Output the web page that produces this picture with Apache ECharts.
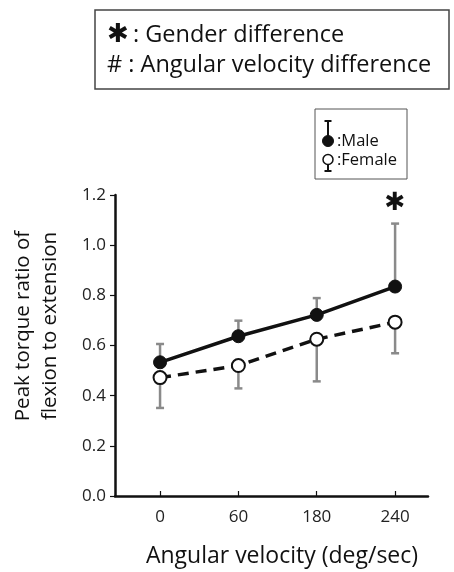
<!DOCTYPE html>
<html><head><meta charset="utf-8">
<script src="https://cdn.jsdelivr.net/npm/echarts@6/dist/echarts.min.js"></script>
<style>html,body{margin:0;padding:0;background:#fff}#c{width:454px;height:572px}</style>
</head><body><div id="c"></div>
<script>
// ---- data ----
const categories = ['0', '60', '180', '240'];
const maleMean = [0.533, 0.637, 0.722, 0.835];
const maleSD = [0.073, 0.062, 0.067, 0.251];      // drawn upward
const femaleMean = [0.472, 0.520, 0.625, 0.693];
const femaleSD = [0.121, 0.091, 0.168, 0.124];    // drawn downward
const genderDiffAt = [3];                           // indices with gender difference
const genderMarkY = 1.165;
const yTickLabels = ['0.0', '0.2', '0.4', '0.6', '0.8', '1.0', '1.2'];

const FONT = 'Open Sans';
const idx = categories.map((_, i) => i);

function errData(mean, sd, dir) {
  return idx.map(i => [i, mean[i], sd[i], dir]);
}
function errRender(params, api) {
  const x = api.value(0), m = api.value(1), e = api.value(2), d = api.value(3);
  const base = api.coord([x, m]);
  const tip = api.coord([x, m + d * e]);
  const style = { stroke: '#8a8a8a', lineWidth: 2.5 };
  return {
    type: 'group',
    children: [
      { type: 'line', shape: { x1: base[0], y1: base[1], x2: tip[0], y2: tip[1] }, style },
      { type: 'line', shape: { x1: tip[0] - 4, y1: tip[1], x2: tip[0] + 4, y2: tip[1] }, style }
    ]
  };
}

const chart = echarts.init(document.getElementById('c'), null, { renderer: 'canvas' });
chart.setOption({
  backgroundColor: '#fff',
  animation: false,
  textStyle: { fontFamily: FONT },
  grid: { left: 115, right: 26, top: 195, bottom: 76, containLabel: false },
  xAxis: {
    type: 'value', min: -0.575, max: 3.42,
    axisLine: { show: true, onZero: false, lineStyle: { color: '#111', width: 2.5 } },
    axisTick: { show: true, inside: true, length: 5, customValues: idx, lineStyle: { color: '#111', width: 1.2 } },
    axisLabel: { customValues: idx, formatter: v => categories[Math.round(v)], fontSize: 17, color: '#222', margin: 13, fontFamily: FONT },
    splitLine: { show: false }
  },
  yAxis: {
    type: 'value', min: 0, max: 1.2, interval: 0.2,
    axisLine: { show: true, onZero: false, lineStyle: { color: '#111', width: 2.5 } },
    axisTick: { show: true, inside: false, length: 5, lineStyle: { color: '#111', width: 1.2 } },
    axisLabel: { formatter: v => yTickLabels[Math.round(v / 0.2)], fontSize: 17, color: '#222', margin: 9, fontFamily: FONT },
    splitLine: { show: false }
  },
  series: [
    { type: 'custom', name: 'maleErr', renderItem: errRender, data: errData(maleMean, maleSD, 1), z: 1, encode: { x: 0, y: 1 } },
    { type: 'custom', name: 'femaleErr', renderItem: errRender, data: errData(femaleMean, femaleSD, -1), z: 1, encode: { x: 0, y: 1 } },
    {
      type: 'line', name: 'Female', data: idx.map(i => [i, femaleMean[i]]), z: 3,
      symbol: 'circle', symbolSize: 13, showAllSymbol: true,
      lineStyle: { color: '#111', width: 3.5, type: [11, 7] },
      itemStyle: { color: '#fff', borderColor: '#111', borderWidth: 2 }
    },
    {
      type: 'line', name: 'Male', data: idx.map(i => [i, maleMean[i]]), z: 4,
      symbol: 'circle', symbolSize: 13, showAllSymbol: true,
      lineStyle: { color: '#111', width: 3.5 },
      itemStyle: { color: '#111', borderColor: '#111', borderWidth: 1 },
      markPoint: {
        symbol: 'circle', symbolSize: 1, itemStyle: { color: 'transparent' },
        label: { show: true, formatter: '✱', fontSize: 25, color: '#111', position: 'inside', fontFamily: 'DejaVu Sans' },
        data: genderDiffAt.map(i => ({ coord: [i, genderMarkY] }))
      }
    }
  ],
  graphic: [
    // significance key box
    { type: 'rect', shape: { x: 95, y: 10, width: 354, height: 79 }, style: { fill: 'none', stroke: '#444', lineWidth: 1.5 } },
    { type: 'text', x: 107, y: 35, style: { text: '✱', fontSize: 26, fontFamily: 'DejaVu Sans', fill: '#111', verticalAlign: 'middle' } },
    { type: 'text', x: 133, y: 35, style: { text: ': Gender difference', fontSize: 23.5, fontFamily: FONT, fill: '#111', verticalAlign: 'middle' } },
    { type: 'text', x: 107, y: 65, style: { text: '# : Angular velocity difference', fontSize: 23.5, fontFamily: FONT, fill: '#111', verticalAlign: 'middle' } },
    // series legend box
    { type: 'rect', shape: { x: 315, y: 109, width: 92, height: 70 }, style: { fill: 'none', stroke: '#555', lineWidth: 1 } },
    { type: 'line', shape: { x1: 328, y1: 121, x2: 328, y2: 140 }, style: { stroke: '#111', lineWidth: 2 } },
    { type: 'line', shape: { x1: 324.5, y1: 121, x2: 331.5, y2: 121 }, style: { stroke: '#111', lineWidth: 2 } },
    { type: 'circle', shape: { cx: 328, cy: 141, r: 5.5 }, style: { fill: '#111', stroke: '#111', lineWidth: 1 } },
    { type: 'text', x: 337, y: 141, style: { text: ':Male', fontSize: 16.5, fontFamily: FONT, fill: '#111', verticalAlign: 'middle' } },
    { type: 'line', shape: { x1: 328, y1: 160, x2: 328, y2: 171 }, style: { stroke: '#111', lineWidth: 2 } },
    { type: 'line', shape: { x1: 324.5, y1: 171, x2: 331.5, y2: 171 }, style: { stroke: '#111', lineWidth: 2 } },
    { type: 'circle', shape: { cx: 328, cy: 159.5, r: 5 }, style: { fill: '#fff', stroke: '#111', lineWidth: 1.5 } },
    { type: 'text', x: 337, y: 160, style: { text: ':Female', fontSize: 16.5, fontFamily: FONT, fill: '#111', verticalAlign: 'middle' } },
    // axis titles
    { type: 'text', x: 282, y: 556, style: { text: 'Angular velocity (deg/sec)', fontSize: 23, fontFamily: FONT, fill: '#111', align: 'center', verticalAlign: 'middle' } },
    { type: 'text', x: 37, y: 326, rotation: Math.PI / 2, style: { text: 'Peak torque ratio of\nflexion to extension', fontSize: 20.5, lineHeight: 27, fontFamily: FONT, fill: '#111', align: 'center', verticalAlign: 'middle' } }
  ]
});
</script>
</body></html>
